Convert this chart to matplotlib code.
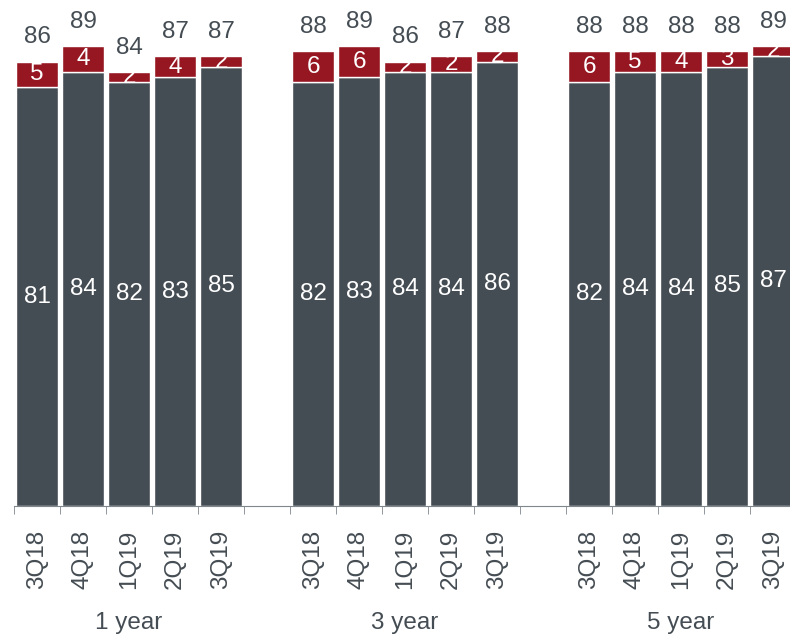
import numpy as np
import matplotlib.pyplot as plt

plt.rcParams['font.family'] = ['Liberation Sans', 'DejaVu Sans']

# data
groups = ['1 year', '3 year', '5 year']
quarters = ['3Q18', '4Q18', '1Q19', '2Q19', '3Q19']
dark_vals = [[81, 84, 82, 83, 85],
             [82, 83, 84, 84, 86],
             [82, 84, 84, 85, 87]]
red_vals = [[5, 4, 2, 4, 2],
            [6, 6, 2, 2, 2],
            [6, 5, 4, 3, 2]]
totals = [[86, 89, 84, 87, 87],
          [88, 89, 86, 87, 88],
          [88, 88, 88, 88, 89]]

dark = '#454d54'
red = '#961722'
txt = '#454d54'
fs = 17.5

fig = plt.figure(figsize=(7.9, 6.38), dpi=100)
ax = fig.add_axes([14 / 790, 132 / 638, 782 / 790, 506 / 638])

centers = []
labels = []
for g in range(len(groups)):
    x = 6 * g + np.arange(5) + 0.5
    d = np.array(dark_vals[g])
    t = np.array(totals[g])
    ax.bar(x, d, 0.93, color=dark, edgecolor='white', linewidth=1)
    ax.bar(x, t - d, 0.93, bottom=d, color=red, edgecolor='white', linewidth=1)
    for i in range(5):
        ax.text(x[i], d[i] / 2, str(d[i]), color='white', fontsize=fs,
                ha='center', va='center')
        ax.text(x[i], d[i] + (t[i] - d[i]) / 2, str(red_vals[g][i]),
                color='white', fontsize=fs, ha='center', va='center')
        ax.text(x[i], t[i] + 4.7, str(t[i]), color=txt, fontsize=fs,
                ha='center', va='center')
    centers += list(x)
    labels += quarters
    ax.text(6 * g + 2.5, -0.231, groups[g], color=txt, fontsize=fs,
            ha='center', va='center', transform=ax.get_xaxis_transform())

ax.set_xlim(0, 17)
ax.set_ylim(0, 97.9)
ax.set_xticks(centers)
ax.set_xticklabels(labels, rotation=90, fontsize=fs, color=txt)
ax.set_xticks(np.arange(0, 18), minor=True)
ax.tick_params(axis='x', which='major', length=0, pad=17)
ax.tick_params(axis='x', which='minor', length=6, color='#7f868c')
ax.set_yticks([])
for s in ['top', 'right', 'left']:
    ax.spines[s].set_visible(False)
ax.spines['bottom'].set_color('#7f868c')

fig.savefig('out.png', dpi=100)
